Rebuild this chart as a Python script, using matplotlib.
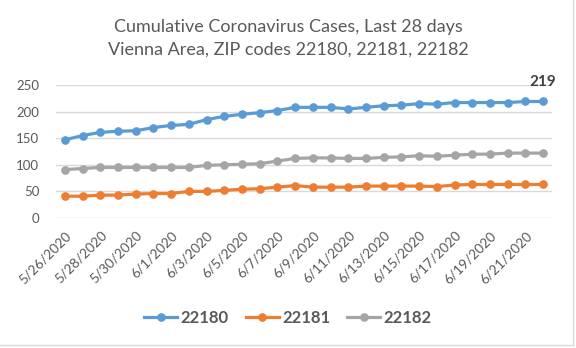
import matplotlib
matplotlib.use("Agg")
import matplotlib.pyplot as plt
from matplotlib.lines import Line2D
import pandas as pd

dates = pd.date_range("2020-05-26", "2020-06-22", freq="D")
date_labels = [f"{d.month}/{d.day}/{d.year}" for d in dates]

zip_22180 = [147, 155, 161, 163, 164, 170, 174, 176, 185, 191, 195, 198, 202, 208,
             208, 208, 205, 208, 211, 212, 215, 214, 217, 217, 217, 217, 219, 219]
zip_22181 = [41, 41, 43, 43, 45, 46, 46, 50, 50, 52, 54, 55, 58, 61,
             58, 58, 58, 60, 60, 60, 60, 59, 62, 63, 63, 63, 63, 63]
zip_22182 = [91, 93, 95, 95, 95, 95, 95, 95, 99, 100, 101, 102, 107, 112,
             113, 113, 112, 112, 114, 115, 117, 116, 118, 120, 120, 122, 122, 122]

series_names = ["22180", "22181", "22182"]
colors = ["#5B9BD5", "#ED7D31", "#A5A5A5"]
title = "Cumulative Coronavirus Cases, Last 28 days\nVienna Area, ZIP codes 22180, 22181, 22182"

plt.rcParams['font.family'] = ['Lato', 'DejaVu Sans']
txt = "#595959"

fig = plt.figure(figsize=(5.76, 3.48), dpi=100)
W, H = 576, 348
ax = fig.add_axes([56 / W, 1 - 218 / H, (552 - 56) / W, (218 - 85) / H])

x = list(range(len(dates)))
for vals, name, c in zip([zip_22180, zip_22181, zip_22182], series_names, colors):
    ax.plot(x, vals, color=c, lw=2.3, marker="o", ms=5.2, label=name,
            solid_capstyle="round")

ax.set_xlim(-0.5, len(dates) - 0.5)
ax.set_ylim(0, 250)
ax.set_yticks(range(0, 251, 50))
ax.grid(axis="y", color="#D9D9D9", lw=1)
ax.set_axisbelow(True)
for s in ax.spines.values():
    s.set_visible(False)
ax.tick_params(axis="both", length=0, colors=txt, labelsize=9.5)
ax.tick_params(axis="y", pad=12)
ax.set_xticks(x[::2])
ax.set_xticklabels(date_labels[::2], rotation=45, ha="right",
                   rotation_mode="anchor", fontsize=9.8, color=txt)
ax.tick_params(axis="x", pad=8)

# data label on last blue point
ax.annotate(str(zip_22180[-1]), (x[-1], zip_22180[-1]), xytext=(0, 9),
            textcoords="offset points", ha="center", va="bottom",
            fontsize=11, fontweight="bold", color="#404040")

fig.text(0.5, 1 - 38 / H, title, ha="center", va="center", fontsize=13,
         color=txt, linespacing=1.5)

handles = [Line2D([], [], color=c, lw=2.3, marker="o", ms=5.2) for c in colors]
leg = fig.legend(handles, series_names, loc="center", bbox_to_anchor=(0.5, 1 - 318 / H),
                 ncol=3, frameon=False, handlelength=2.0, columnspacing=1.0,
                 handletextpad=0.2, prop={"weight": "bold", "size": 12})
for t in leg.get_texts():
    t.set_color(txt)

# chart border (right and bottom edges visible)
border = "#D9D9D9"
fig.add_artist(Line2D([573 / W, 573 / W], [1 - 345 / H, 1], transform=fig.transFigure,
                      color=border, lw=1))
fig.add_artist(Line2D([0, 573 / W], [1 - 345 / H, 1 - 345 / H], transform=fig.transFigure,
                      color=border, lw=1))

fig.savefig("out.png", dpi=100, facecolor="white")
